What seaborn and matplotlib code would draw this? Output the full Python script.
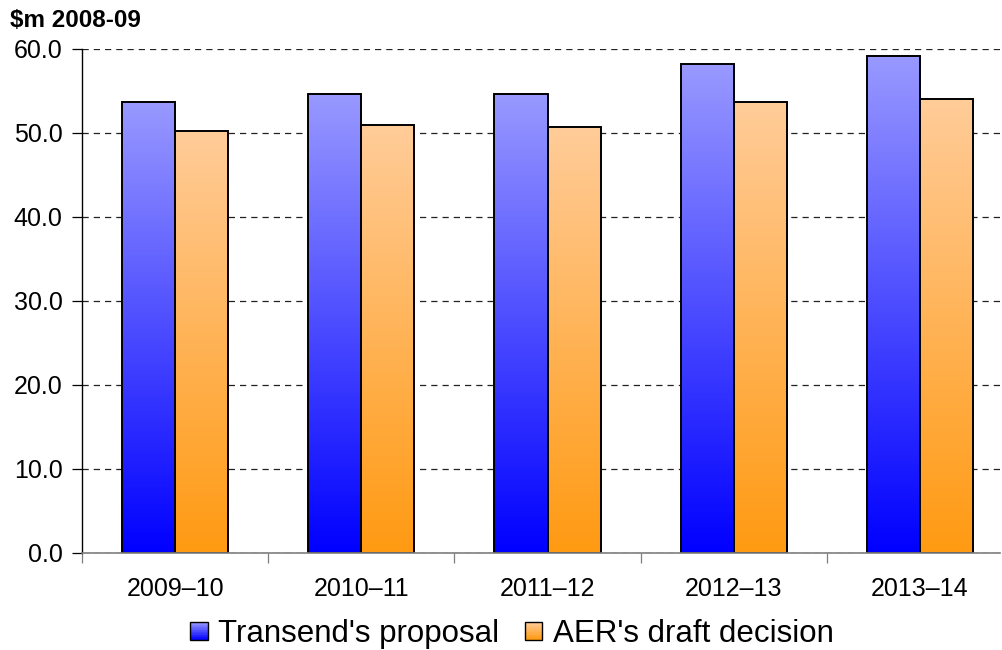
import numpy as np
import pandas as pd
import matplotlib
matplotlib.use("Agg")
import matplotlib.pyplot as plt
from matplotlib.patches import Rectangle
from matplotlib.legend_handler import HandlerBase
from matplotlib.colors import to_rgb
import seaborn as sns

# Operating expenditure, $m 2008-09
categories = ["2009\u201310", "2010\u201311", "2011\u201312", "2012\u201313", "2013\u201314"]
transend_proposal = [53.7, 54.7, 54.7, 58.2, 59.2]
aer_draft = [50.2, 50.9, 50.7, 53.7, 54.1]
series_names = ["Transend's proposal", "AER's draft decision"]
y_ticks = [0, 10, 20, 30, 40, 50, 60]

# gradient end colours per series: (top, bottom)
gradients = {
    series_names[0]: ("#9999FF", "#0000FF"),
    series_names[1]: ("#FFCC99", "#FF9A12"),
}

df = pd.DataFrame({
    "period": categories * 2,
    "value": transend_proposal + aer_draft,
    "series": [series_names[0]] * len(categories) + [series_names[1]] * len(categories),
})

sns.set_theme(style="white")
plt.rcParams["font.family"] = ["Liberation Sans", "DejaVu Sans"]
plt.rcParams["text.color"] = "black"

fig = plt.figure(figsize=(10.02, 6.5), dpi=100)
ax = fig.add_axes([82 / 1002, (650 - 553) / 650, (1000 - 82) / 1002, 504 / 650])

mid_palette = {k: v[1] for k, v in gradients.items()}
sns.barplot(data=df, x="period", y="value", hue="series", palette=mid_palette,
            width=0.57, gap=0, dodge=True, ax=ax, legend=False,
            edgecolor="black", linewidth=1.4, saturation=1, errorbar=None)


def grad_image(top, bottom, n=256):
    t = np.linspace(0, 1, n)[:, None]
    c0 = np.array(to_rgb(bottom))
    c1 = np.array(to_rgb(top))
    img = c0[None, :] * (1 - t) + c1[None, :] * t
    return img[:, None, :]


# Paint each bar with a vertical gradient, keeping the black outline on top
n_cat = len(categories)
for i, patch in enumerate(ax.patches):
    series = series_names[i // n_cat]
    top, bottom = gradients[series]
    x0, y0 = patch.get_x(), patch.get_y()
    w, h = patch.get_width(), patch.get_height()
    ax.imshow(grad_image(top, bottom), extent=[x0, x0 + w, y0, y0 + h],
              origin="lower", aspect="auto", zorder=patch.get_zorder() - 0.01,
              interpolation="bilinear")
    patch.set_facecolor("none")

ax.set_yticks(y_ticks)
ax.set_yticklabels([f"{v:.1f}" for v in y_ticks])
ax.set_xticks(np.arange(-0.5, n_cat, 1.0), minor=True)
ax.set_xlim(-0.5, 4.43)
ax.set_ylim(0, 60)
ax.set_xlabel("")
ax.set_ylabel("")

# Dashed horizontal gridlines
ax.yaxis.grid(True, linestyle=(0, (5, 4)), color="#222222", linewidth=0.9)
ax.set_axisbelow(True)

for side in ["top", "right"]:
    ax.spines[side].set_visible(False)
ax.spines["left"].set_color("black")
ax.spines["left"].set_linewidth(1.0)
ax.spines["bottom"].set_color("#7f7f7f")
ax.spines["bottom"].set_linewidth(1.2)

ax.tick_params(axis="y", which="major", direction="out", length=7, width=0.9,
               color="black", pad=7, labelsize=18, labelcolor="black", left=True)
ax.tick_params(axis="x", which="minor", direction="out", length=7, width=0.9,
               color="#7f7f7f", bottom=True)
ax.tick_params(axis="x", which="major", length=0, pad=17, labelsize=18,
               labelcolor="black")

fig.text(10 / 1002, 1 - 27 / 650, "$m 2008-09", fontsize=17.5, fontweight="bold",
         ha="left", va="baseline", color="black")


class GradientSquareHandler(HandlerBase):
    def __init__(self, top, bottom, n=24):
        super().__init__()
        self.top, self.bottom, self.n = top, bottom, n

    def create_artists(self, legend, orig_handle, xdescent, ydescent, width,
                       height, fontsize, trans):
        side = min(width, height)
        x0 = -xdescent + (width - side) / 2
        y0 = -ydescent + (height - side) / 2
        c0 = np.array(to_rgb(self.bottom))
        c1 = np.array(to_rgb(self.top))
        artists = []
        step = side / self.n
        for k in range(self.n):
            t = (k + 0.5) / self.n
            col = c0 * (1 - t) + c1 * t
            artists.append(Rectangle((x0, y0 + k * step), side, step * 1.05,
                                     facecolor=col, edgecolor="none",
                                     transform=trans))
        artists.append(Rectangle((x0, y0), side, side, facecolor="none",
                                 edgecolor="black", linewidth=1.0,
                                 transform=trans))
        return artists


handles = [Rectangle((0, 0), 1, 1) for _ in series_names]
handler_map = {h: GradientSquareHandler(*gradients[name])
               for h, name in zip(handles, series_names)}
fig.legend(handles, series_names, handler_map=handler_map, loc="center",
           bbox_to_anchor=(512 / 1002, 1 - 634 / 650), ncol=2, frameon=False,
           fontsize=22.5, handlelength=0.55, handleheight=0.55, handletextpad=0.35,
           columnspacing=0.8, borderpad=0, labelcolor="black")

fig.savefig("out.png", dpi=100)
